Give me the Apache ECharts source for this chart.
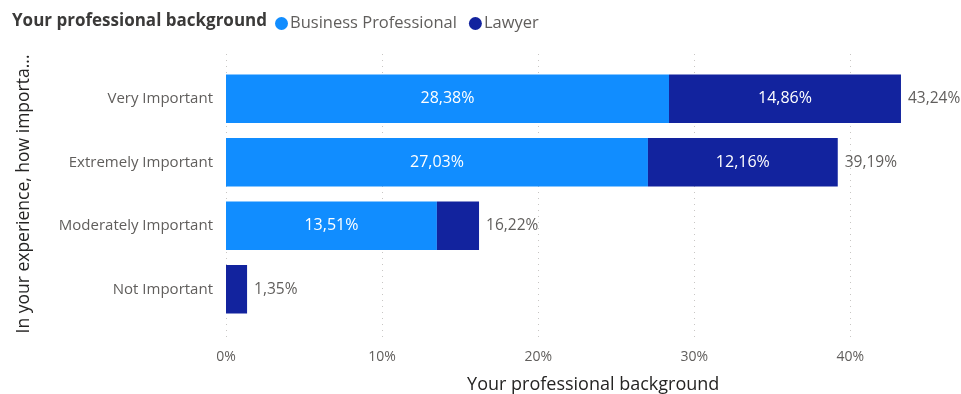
<!DOCTYPE html>
<html>
<head>
<meta charset="utf-8">
<script src="https://cdn.jsdelivr.net/npm/echarts@6/dist/echarts.min.js"></script>
<style>html,body{margin:0;padding:0;background:#fff}#c{width:961px;height:394px}</style>
</head>
<body>
<div id="c"></div>
<script>
const categories = ['Very Important', 'Extremely Important', 'Moderately Important', 'Not Important'];
const businessProfessional = [28.38, 27.03, 13.51, 0];
const lawyer = [14.86, 12.16, 2.70, 1.35];
const totals = [43.24, 39.19, 16.22, 1.35];
const xTicks = [0, 10, 20, 30, 40];

const fmt = v => v.toFixed(2).replace('.', ',') + '%';
const FONT = '"Open Sans", "Noto Sans", sans-serif';
const GREY = '#605E5C';
const DARK = '#252423';

const chart = echarts.init(document.getElementById('c'));
chart.setOption({
  animation: false,
  textStyle: { fontFamily: FONT },
  title: {
    text: 'Your professional background',
    left: 7, top: 8,
    textStyle: { fontSize: 17, fontWeight: 'bold', color: '#3B3A39', fontFamily: FONT }
  },
  legend: {
    left: 270, top: 10,
    icon: 'circle', itemWidth: 13, itemHeight: 13, itemGap: 12,
    textStyle: { fontSize: 16.5, color: GREY, fontFamily: FONT, padding: [0, 0, 0, -3] },
    data: ['Business Professional', 'Lawyer']
  },
  grid: [
    { left: 226, top: 67, width: 624.4, height: 254, containLabel: false, outerBoundsMode: 'none' },
    { left: 226, top: 54, width: 624.4, height: 284, containLabel: false, outerBoundsMode: 'none' }
  ],
  xAxis: [
    {
      type: 'value', gridIndex: 0, min: xTicks[0], max: xTicks[xTicks.length - 1], interval: 10,
      axisLine: { show: false }, axisTick: { show: false },
      splitLine: { show: false },
      axisLabel: { margin: 29, fontSize: 14, color: GREY, formatter: v => v + '%' },
      name: 'Your professional background', nameLocation: 'middle', nameGap: 55,
      nameTextStyle: { fontSize: 18, color: DARK, padding: [0, 0, 0, 110] }
    },
    {
      type: 'value', gridIndex: 1, min: 0, max: 40, interval: 10,
      axisLine: { show: false }, axisTick: { show: false }, axisLabel: { show: false },
      splitLine: { show: true, lineStyle: { type: [1, 5], color: '#C8C6C4', width: 1 } }
    }
  ],
  yAxis: [
    {
      type: 'category', gridIndex: 0, data: categories, inverse: true,
      axisLine: { show: false }, axisTick: { show: false },
      axisLabel: { margin: 13, fontSize: 15, color: GREY },
      name: 'In your experience, how importa...', nameLocation: 'middle', nameGap: 193,
      nameRotate: 90,
      nameTextStyle: { fontSize: 17.5, color: DARK }
    },
    { type: 'category', gridIndex: 1, data: [''], show: false }
  ],
  series: [
    {
      name: 'Business Professional', type: 'bar', stack: 'a', barCategoryGap: '24%',
      clip: false,
      itemStyle: { color: '#118DFF' },
      label: { show: true, position: 'inside', color: '#fff', fontSize: 16,
        formatter: p => p.value > 5 ? fmt(p.value) : '' },
      data: businessProfessional
    },
    {
      name: 'Lawyer', type: 'bar', stack: 'a', clip: false,
      itemStyle: { color: '#12239E' },
      label: { show: true, position: 'inside', color: '#fff', fontSize: 16,
        formatter: p => p.value > 5 ? fmt(p.value) : '' },
      data: lawyer
    },
    {
      name: 'Total', type: 'bar', stack: 'a', clip: false,
      itemStyle: { color: 'transparent' },
      label: { show: true, position: 'right', distance: 7, color: GREY, fontSize: 15.5,
        formatter: p => fmt(totals[p.dataIndex]) },
      data: totals.map(() => 0)
    }
  ]
});
</script>
</body>
</html>
